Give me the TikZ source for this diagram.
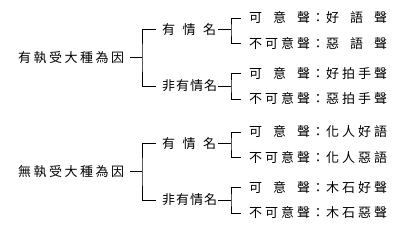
\documentclass[tikz,border=0pt]{standalone}
\usepackage{fontspec}
\setmainfont{Noto Sans CJK TC}
\newcommand{\hf}{\hfill{}}
\newcommand{\leaftext}[2]{\makebox[61pt][s]{#1}\makebox[16pt]{：}\makebox[61pt][s]{#2}}
\begin{document}
\begin{tikzpicture}[x=1pt,y=-1pt,
  lbl/.style={inner sep=0pt, anchor=west, font=\fontsize{13}{14}\selectfont},
  conn/.style={line width=0.8pt}]
\useasboundingbox (0,0) rectangle (396,228);
% ---- upper tree
\node[lbl] (r1) at (18,57.5) {\makebox[106pt][s]{有\hf{}執\hf{}受\hf{}大\hf{}種\hf{}為\hf{}因}};
\node[lbl] (a1) at (162,29.5) {\makebox[54pt][s]{有\hf{}情\hf{}名}};
\node[lbl] (a2) at (162,86) {\makebox[55pt][s]{非\hf{}有\hf{}情\hf{}名}};
\node[lbl] (l1) at (249,18) {\leaftext{可\hf{}意\hf{}聲}{好\hf{}語\hf{}聲}};
\node[lbl] (l2) at (249,43.5) {\leaftext{不\hf{}可\hf{}意\hf{}聲}{惡\hf{}語\hf{}聲}};
\node[lbl] (l3) at (249,73.5) {\leaftext{可\hf{}意\hf{}聲}{好\hf{}拍\hf{}手\hf{}聲}};
\node[lbl] (l4) at (249,99) {\leaftext{不\hf{}可\hf{}意\hf{}聲}{惡\hf{}拍\hf{}手\hf{}聲}};
\coordinate (j1) at (142,57.5);
\coordinate (k1) at (231,29.5);
\coordinate (k2) at (231,86);
\draw[conn] ([xshift=6pt]r1.east) -- (j1);
\draw[conn] ([xshift=-6pt]a1.west) -| (j1) |- ([xshift=-6pt]a2.west);
\draw[conn] ([xshift=2pt]a1.east) -- (k1);
\draw[conn] ([xshift=1pt]a2.east) -- (k2);
\draw[conn] ([xshift=-8pt]l1.west) -| (k1) |- ([xshift=-8pt]l2.west);
\draw[conn] ([xshift=-8pt]l3.west) -| (k2) |- ([xshift=-8pt]l4.west);
% ---- lower tree
\node[lbl] (r2) at (18,171.5) {\makebox[106pt][s]{無\hf{}執\hf{}受\hf{}大\hf{}種\hf{}為\hf{}因}};
\node[lbl] (a3) at (162,143.5) {\makebox[54pt][s]{有\hf{}情\hf{}名}};
\node[lbl] (a4) at (162,200) {\makebox[55pt][s]{非\hf{}有\hf{}情\hf{}名}};
\node[lbl] (l5) at (249,132) {\leaftext{可\hf{}意\hf{}聲}{化\hf{}人\hf{}好\hf{}語}};
\node[lbl] (l6) at (249,157.5) {\leaftext{不\hf{}可\hf{}意\hf{}聲}{化\hf{}人\hf{}惡\hf{}語}};
\node[lbl] (l7) at (249,187.5) {\leaftext{可\hf{}意\hf{}聲}{木\hf{}石\hf{}好\hf{}聲}};
\node[lbl] (l8) at (249,213) {\leaftext{不\hf{}可\hf{}意\hf{}聲}{木\hf{}石\hf{}惡\hf{}聲}};
\coordinate (j2) at (142,171.5);
\coordinate (k3) at (231,143.5);
\coordinate (k4) at (231,200);
\draw[conn] ([xshift=6pt]r2.east) -- (j2);
\draw[conn] ([xshift=-6pt]a3.west) -| (j2) |- ([xshift=-6pt]a4.west);
\draw[conn] ([xshift=2pt]a3.east) -- (k3);
\draw[conn] ([xshift=1pt]a4.east) -- (k4);
\draw[conn] ([xshift=-8pt]l5.west) -| (k3) |- ([xshift=-8pt]l6.west);
\draw[conn] ([xshift=-8pt]l7.west) -| (k4) |- ([xshift=-8pt]l8.west);
\end{tikzpicture}
\end{document}
